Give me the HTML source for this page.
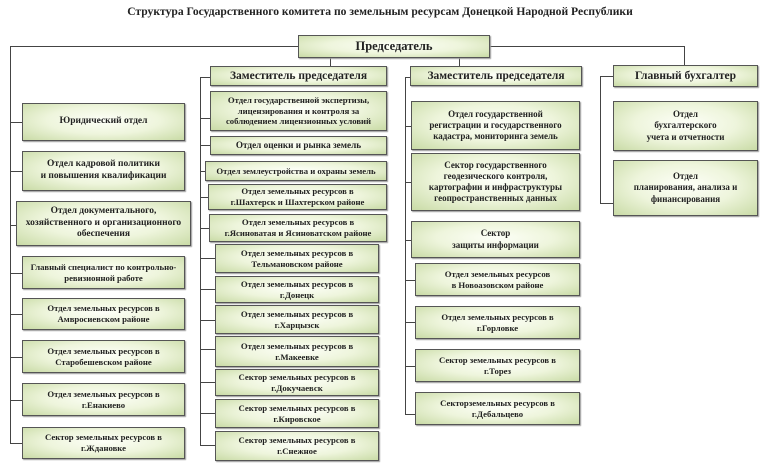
<!DOCTYPE html><html><head><meta charset="utf-8"><style>
body{margin:0;width:760px;height:465px;background:#fff;position:relative;overflow:hidden;font-family:"Liberation Serif",serif;}
.b{position:absolute;box-sizing:border-box;border:1px solid #555;background:radial-gradient(ellipse at 50% 45%,#fdfff8 0%,#eef5dc 50%,#c9dba6 100%);box-shadow:1px 1px 1px #999;display:flex;align-items:center;justify-content:center;text-align:center;font-weight:bold;color:#222;font-size:8.7px;line-height:1.25;}
.l{position:absolute;background:#444;}
.t{position:absolute;left:0;width:760px;top:5px;text-align:center;font-weight:bold;font-size:11.6px;color:#222;}
.big{font-size:12.5px}.m{font-size:9.5px}.h{font-size:11.5px}
</style></head><body>
<div class="t">Структура Государственного комитета по земельным ресурсам Донецкой Народной Республики</div>
<div class="l" style="left:10px;top:46px;width:288px;height:1px"></div>
<div class="l" style="left:490px;top:46px;width:195px;height:1px"></div>
<div class="l" style="left:684px;top:46px;width:1px;height:19px"></div>
<div class="l" style="left:330px;top:58px;width:1px;height:8px"></div>
<div class="l" style="left:459px;top:58px;width:1px;height:8px"></div>
<div class="l" style="left:10px;top:46px;width:1px;height:398px"></div>
<div class="l" style="left:10px;top:122px;width:12px;height:1px"></div>
<div class="l" style="left:10px;top:171px;width:12px;height:1px"></div>
<div class="l" style="left:10px;top:225px;width:6px;height:1px"></div>
<div class="l" style="left:10px;top:273px;width:12px;height:1px"></div>
<div class="l" style="left:10px;top:314px;width:12px;height:1px"></div>
<div class="l" style="left:10px;top:357px;width:12px;height:1px"></div>
<div class="l" style="left:10px;top:400px;width:12px;height:1px"></div>
<div class="l" style="left:10px;top:443px;width:12px;height:1px"></div>
<div class="l" style="left:200px;top:77px;width:1px;height:369px"></div>
<div class="l" style="left:200px;top:77px;width:10px;height:1px"></div>
<div class="l" style="left:200px;top:118px;width:10px;height:1px"></div>
<div class="l" style="left:200px;top:145px;width:10px;height:1px"></div>
<div class="l" style="left:200px;top:171px;width:5px;height:1px"></div>
<div class="l" style="left:200px;top:197px;width:8px;height:1px"></div>
<div class="l" style="left:200px;top:228px;width:9px;height:1px"></div>
<div class="l" style="left:200px;top:258px;width:15px;height:1px"></div>
<div class="l" style="left:200px;top:289px;width:15px;height:1px"></div>
<div class="l" style="left:200px;top:320px;width:15px;height:1px"></div>
<div class="l" style="left:200px;top:349px;width:15px;height:1px"></div>
<div class="l" style="left:200px;top:382px;width:15px;height:1px"></div>
<div class="l" style="left:200px;top:413px;width:15px;height:1px"></div>
<div class="l" style="left:200px;top:445px;width:15px;height:1px"></div>
<div class="l" style="left:405px;top:77px;width:1px;height:338px"></div>
<div class="l" style="left:405px;top:77px;width:5px;height:1px"></div>
<div class="l" style="left:405px;top:126px;width:6px;height:1px"></div>
<div class="l" style="left:405px;top:182px;width:6px;height:1px"></div>
<div class="l" style="left:405px;top:240px;width:6px;height:1px"></div>
<div class="l" style="left:405px;top:280px;width:10px;height:1px"></div>
<div class="l" style="left:405px;top:322px;width:10px;height:1px"></div>
<div class="l" style="left:405px;top:366px;width:10px;height:1px"></div>
<div class="l" style="left:405px;top:414px;width:10px;height:1px"></div>
<div class="l" style="left:600px;top:76px;width:1px;height:128px"></div>
<div class="l" style="left:600px;top:76px;width:13px;height:1px"></div>
<div class="l" style="left:600px;top:203px;width:13px;height:1px"></div>
<div class="b big" style="left:298px;top:35px;width:192px;height:23px">Председатель</div>
<div class="b m" style="left:22px;top:103px;width:163px;height:38px">Юридический отдел</div>
<div class="b m" style="left:22px;top:151px;width:163px;height:40px">Отдел кадровой политики<br>и повышения квалификации</div>
<div class="b m" style="left:16px;top:201px;width:175px;height:45px">Отдел документального,<br>хозяйственного и организационного<br>обеспечения</div>
<div class="b" style="left:22px;top:256px;width:163px;height:33px">Главный специалист по контрольно-<br>ревизионной работе</div>
<div class="b" style="left:22px;top:298px;width:163px;height:32px">Отдел земельных ресурсов в<br>Амвросиевском районе</div>
<div class="b" style="left:22px;top:340px;width:163px;height:33px">Отдел земельных ресурсов в<br>Старобешевском районе</div>
<div class="b" style="left:22px;top:383px;width:163px;height:33px">Отдел земельных ресурсов в<br>г.Енакиево</div>
<div class="b" style="left:22px;top:427px;width:163px;height:32px">Сектор земельных ресурсов в<br>г.Ждановке</div>
<div class="b h" style="left:210px;top:66px;width:177px;height:20px">Заместитель председателя</div>
<div class="b" style="left:210px;top:91px;width:177px;height:40px">Отдел государственной экспертизы,<br>лицензирования и контроля за<br>соблюдением лицензионных условий</div>
<div class="b" style="left:210px;top:136px;width:177px;height:19px;font-size:9.2px">Отдел оценки и рынка земель</div>
<div class="b" style="left:205px;top:161px;width:182px;height:20px">Отдел землеустройства и охраны земель</div>
<div class="b" style="left:208px;top:184px;width:179px;height:26px">Отдел земельных ресурсов в<br>г.Шахтерск и Шахтерском районе</div>
<div class="b" style="left:209px;top:214px;width:178px;height:28px">Отдел земельных ресурсов в<br>г.Ясиноватая и Ясиноватском районе</div>
<div class="b" style="left:215px;top:244px;width:164px;height:29px">Отдел земельных ресурсов в<br>Тельмановском районе</div>
<div class="b" style="left:215px;top:276px;width:164px;height:27px">Отдел земельных ресурсов в<br>г.Донецк</div>
<div class="b" style="left:215px;top:305px;width:164px;height:29px">Отдел земельных ресурсов в<br>г.Харцызск</div>
<div class="b" style="left:215px;top:336px;width:164px;height:31px">Отдел земельных ресурсов в<br>г.Макеевке</div>
<div class="b" style="left:215px;top:369px;width:164px;height:27px">Сектор земельных ресурсов в<br>г.Докучаевск</div>
<div class="b" style="left:215px;top:399px;width:164px;height:29px">Сектор земельных ресурсов в<br>г.Кировское</div>
<div class="b" style="left:215px;top:431px;width:164px;height:30px">Сектор земельных ресурсов в<br>г.Снежное</div>
<div class="b h" style="left:410px;top:66px;width:172px;height:20px">Заместитель председателя</div>
<div class="b" style="left:411px;top:101px;width:169px;height:49px;font-size:9px">Отдел государственной<br>регистрации и государственного<br>кадастра, мониторинга земель</div>
<div class="b" style="left:411px;top:153px;width:169px;height:58px;font-size:9px">Сектор государственного<br>геодезического контроля,<br>картографии и инфраструктуры<br>геопространственных данных</div>
<div class="b" style="left:411px;top:221px;width:169px;height:37px;font-size:9px">Сектор<br>защиты информации</div>
<div class="b" style="left:415px;top:263px;width:165px;height:33px">Отдел земельных ресурсов<br>в Новоазовском районе</div>
<div class="b" style="left:415px;top:306px;width:165px;height:33px">Отдел земельных ресурсов в<br>г.Горловке</div>
<div class="b" style="left:415px;top:349px;width:165px;height:33px">Сектор земельных ресурсов в<br>г.Торез</div>
<div class="b" style="left:415px;top:392px;width:165px;height:33px">Секторземельных ресурсов в<br>г.Дебальцево</div>
<div class="b h" style="left:613px;top:65px;width:145px;height:22px">Главный бухгалтер</div>
<div class="b" style="left:613px;top:101px;width:145px;height:50px;font-size:9px">Отдел<br>бухгалтерского<br>учета и отчетности</div>
<div class="b" style="left:613px;top:160px;width:145px;height:56px;font-size:9px">Отдел<br>планирования, анализа и<br>финансирования</div>
</body></html>
